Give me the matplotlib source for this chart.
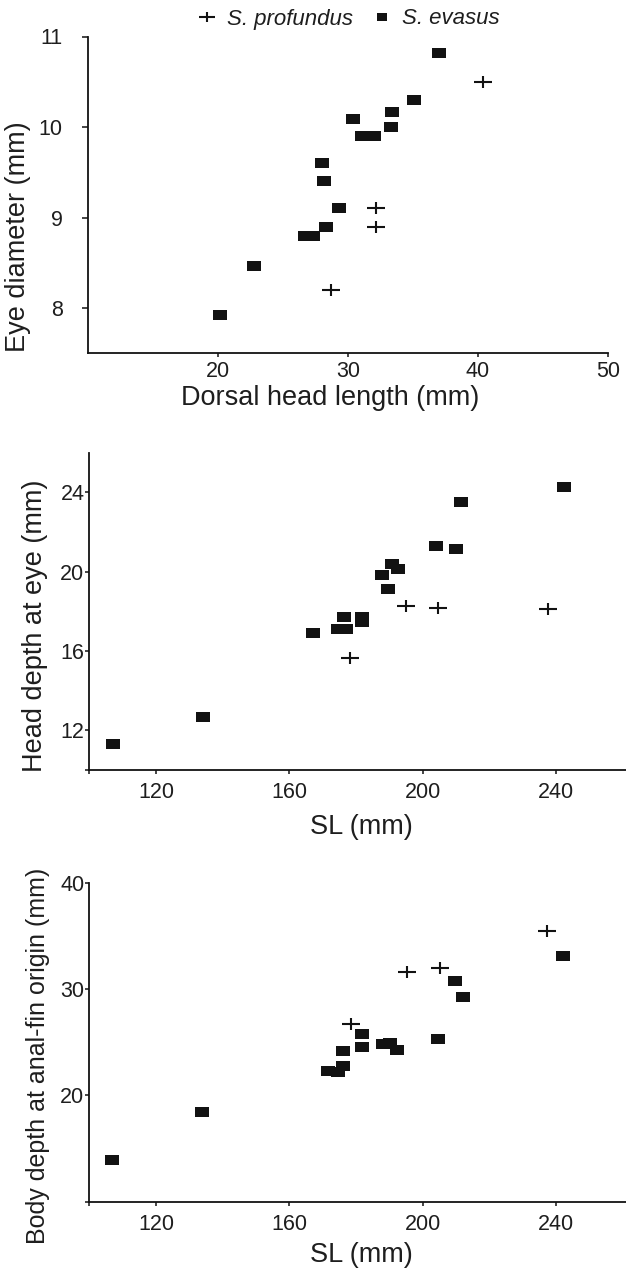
import matplotlib
matplotlib.use("Agg")
import matplotlib.pyplot as plt
from matplotlib.path import Path
from matplotlib.lines import Line2D

plt.rcParams['font.family'] = ['Liberation Sans', 'DejaVu Sans']

# Panel A: eye diameter vs dorsal head length
hl_evasus = [20.2, 22.8, 26.7, 27.3, 28.3, 29.3, 28.2, 28.0, 30.4, 31.1, 32.0, 33.3, 33.4, 35.1, 37.0]
eye_evasus = [7.92, 8.47, 8.80, 8.80, 8.90, 9.10, 9.40, 9.60, 10.09, 9.90, 9.90, 10.00, 10.17, 10.30, 10.82]
hl_profundus = [28.7, 32.2, 32.2, 40.4]
eye_profundus = [8.20, 8.90, 9.10, 10.50]

# Panel B: head depth at eye vs standard length
sl_b_evasus = [107.1, 134.0, 167.0, 174.7, 177.0, 176.5, 181.7, 181.7, 187.7, 189.7, 190.7, 192.7,
               204.0, 210.1, 211.5, 242.4]
hd_evasus = [11.31, 12.69, 16.89, 17.10, 17.10, 17.70, 17.70, 17.48, 19.83, 19.11, 20.39, 20.12,
             21.30, 21.13, 23.53, 24.29]
sl_b_profundus = [178.3, 195.0, 204.6, 237.6]
hd_profundus = [15.63, 18.27, 18.19, 18.10]

# Panel C: body depth at anal-fin origin vs standard length
sl_c_evasus = [106.8, 133.8, 171.7, 174.7, 176.2, 176.2, 181.7, 181.9, 188.2, 190.2, 192.4,
               204.7, 209.8, 212.2, 242.2]
bd_evasus = [13.92, 18.47, 22.33, 22.17, 22.77, 24.21, 24.53, 25.75, 24.84, 24.90, 24.27,
             25.28, 30.80, 29.29, 33.13]
sl_c_profundus = [178.6, 195.4, 205.3, 237.4]
bd_profundus = [26.70, 31.59, 31.97, 35.48]

species = ['S. profundus', 'S. evasus']

# Marker shapes: flat rectangle and wide plus sign
rect = Path([(-1, -0.72), (1, -0.72), (1, 0.72), (-1, 0.72), (-1, -0.72)],
            [Path.MOVETO, Path.LINETO, Path.LINETO, Path.LINETO, Path.CLOSEPOLY])
cross = Path([(-1, 0), (1, 0), (0, -0.68), (0, 0.68)],
             [Path.MOVETO, Path.LINETO, Path.MOVETO, Path.LINETO])

INK = '#121212'
sq_kw = dict(linestyle='none', marker=rect, markersize=9.6, color=INK, markeredgewidth=0)
cr_kw = dict(linestyle='none', marker=cross, markersize=13, color=INK, markeredgewidth=1.5,
             fillstyle='none')

W, H = 626, 1275
fig = plt.figure(figsize=(W / 100, H / 100), dpi=100)


def box(left, top, right, bottom):
    return [left / W, 1 - bottom / H, (right - left) / W, (bottom - top) / H]


ax1 = fig.add_axes(box(87.5, 36.5, 608, 353.3))
ax2 = fig.add_axes(box(89.3, 452.7, 626, 770))
ax3 = fig.add_axes(box(89.3, 883, 626, 1201.7))

for ax in (ax1, ax2, ax3):
    for side in ('top', 'right'):
        ax.spines[side].set_visible(False)
    for side in ('left', 'bottom'):
        ax.spines[side].set_linewidth(1.3)
        ax.spines[side].set_color(INK)
    ax.patch.set_alpha(0)
    ax.tick_params(direction='out', width=1.1, color=INK, labelsize=15.5, labelcolor='#1e1e1e')

# Panel A
ax1.plot(hl_evasus, eye_evasus, **sq_kw)
ax1.plot(hl_profundus, eye_profundus, **cr_kw)
ax1.set_xlim(10, 50)
ax1.set_ylim(7.5, 11)
ax1.set_xticks([20, 30, 40, 50])
ax1.set_yticks([8, 9, 10, 11])
ax1.tick_params(axis='y', length=4, pad=14)
ax1.tick_params(axis='x', length=3, pad=2.5)

# Panels B and C
ax2.plot(sl_b_evasus, hd_evasus, **sq_kw)
ax2.plot(sl_b_profundus, hd_profundus, **cr_kw)
ax2.set_xlim(100, 261)
ax2.set_ylim(10, 26)
ax2.set_yticks([10, 12, 16, 20, 24])
ax2.set_yticklabels(['', '12', '16', '20', '24'])

ax3.plot(sl_c_evasus, bd_evasus, **sq_kw)
ax3.plot(sl_c_profundus, bd_profundus, **cr_kw)
ax3.set_xlim(100, 261)
ax3.set_ylim(10, 40)
ax3.set_yticks([10, 20, 30, 40])
ax3.set_yticklabels(['', '20', '30', '40'])

for ax in (ax2, ax3):
    ax.set_xticks([100, 120, 160, 200, 240])
    ax.set_xticklabels(['', '120', '160', '200', '240'])
    ax.tick_params(axis='y', length=3, pad=0.5)
    ax.tick_params(axis='x', length=3, pad=6)

# Axis titles
lab = dict(fontsize=19.5, color='#1e1e1e')
fig.text(330 / W, 1 - 398 / H, 'Dorsal head length (mm)', ha='center', va='center', **lab)
fig.text(18 / W, 1 - 236.5 / H, 'Eye diameter (mm)', rotation=90, ha='center', va='center', **lab)
fig.text(361.5 / W, 1 - 827 / H, 'SL (mm)', ha='center', va='center', **lab)
fig.text(35 / W, 1 - 625.5 / H, 'Head depth at eye (mm)', rotation=90, ha='center', va='center', **lab)
fig.text(361.5 / W, 1 - 1255 / H, 'SL (mm)', ha='center', va='center', **lab)
fig.text(38 / W, 1 - 1056 / H, 'Body depth at anal-fin origin (mm)', rotation=90,
         ha='center', va='center', fontsize=18, color='#1e1e1e')

# Species key
handles = [Line2D([], [], **dict(cr_kw, markersize=11.5)),
           Line2D([], [], **dict(sq_kw, markersize=7.8))]
fig.legend(handles, species, loc='center', bbox_to_anchor=(348 / W, 1 - 19 / H), ncol=2,
           frameon=False, prop=dict(style='italic', size=16), handlelength=1.0,
           handletextpad=0.4, columnspacing=0.8, borderpad=0, labelcolor='#1e1e1e')

fig.savefig('out.png', dpi=100)
